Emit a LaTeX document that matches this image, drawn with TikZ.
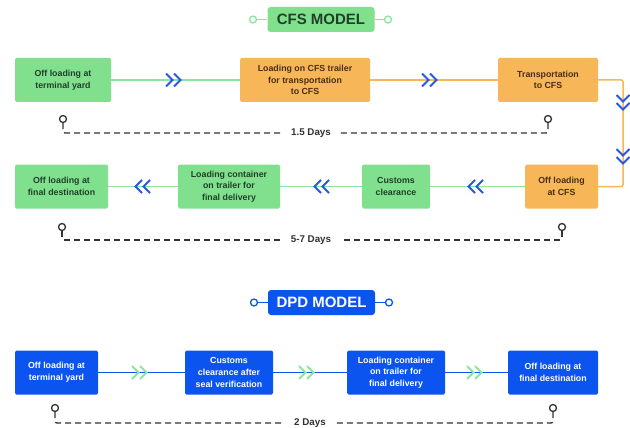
\documentclass[tikz,border=0pt]{standalone}
\usepackage{fontspec}
\setmainfont{Liberation Sans}
\usetikzlibrary{positioning}

\definecolor{cfsgreen}{RGB}{128,224,142}
\definecolor{linegreen}{RGB}{140,228,158}
\definecolor{cfsorange}{RGB}{247,182,88}
\definecolor{dpdblue}{RGB}{12,84,240}
\definecolor{chevblue}{RGB}{40,88,225}
\definecolor{greentxt}{RGB}{32,64,40}
\definecolor{orangetxt}{RGB}{70,48,20}
\definecolor{daygray}{RGB}{50,50,50}

\tikzset{
  chev/.pic={\draw[line width=1.9pt] (-8,-6.5) -- (-1.5,0) -- (-8,6.5) (0,-6.5) -- (6.5,0) -- (0,6.5);}
}

\begin{document}
\begin{tikzpicture}[x=1pt,y=-1pt,
  every node/.style={font=\bfseries\fontsize{8.8}{11.6}\selectfont,align=center},
  box/.style={rectangle,rounded corners=1.5pt,minimum height=44pt,inner sep=2pt},
  gbox/.style={box,fill=cfsgreen,text=greentxt},
  obox/.style={box,fill=cfsorange,text=orangetxt},
  bbox/.style={box,fill=dpdblue,text=white},
  titlebox/.style={rectangle,rounded corners=3pt,minimum width=107pt,minimum height=25pt,
    font=\bfseries\fontsize{15}{15}\selectfont},
  tdot/.style={circle,draw,fill=white,line width=1.3pt,minimum size=7pt,inner sep=0pt},
  dot/.style={circle,draw=daygray,line width=1.3pt,minimum size=7pt,inner sep=0pt},
  daytxt/.style={text=daygray,inner xsep=9pt,font=\bfseries\fontsize{9.8}{12}\selectfont},
  dayline/.style={draw=daygray,line width=1.4pt,dash pattern=on 6pt off 4pt,rounded corners=2pt},
  gline/.style={draw=linegreen,line width=1.5pt},
  oline/.style={draw=cfsorange,line width=1.5pt,rounded corners=2pt},
  bline/.style={draw=dpdblue,line width=1.5pt}]

  \useasboundingbox (0,0) rectangle (630,428);

  % CFS title
  \node[titlebox,fill=cfsgreen,text=greentxt] (cfsT) at (321,19.5) {CFS MODEL};
  \node[tdot,draw=linegreen] (cfsTl) at (253,19.5) {};
  \node[tdot,draw=linegreen] (cfsTr) at (388,19.5) {};
  \draw[gline,line width=1.3pt] (cfsTl) -- (cfsT) -- (cfsTr);

  % CFS first row
  \node[gbox,minimum width=96pt] (cfsA) at (63,80) {Off loading at\\terminal yard};
  \node[obox,minimum width=130pt] (cfsB) at (305,80) {Loading on CFS trailer\\for transportation\\to CFS};
  \node[obox,minimum width=100pt] (cfsC) at (548,80) {Transportation\\to CFS};

  % CFS second row
  \node[obox,minimum width=73pt] (cfsD) at (561.5,186.5) {Off loading\\at CFS};
  \node[gbox,minimum width=68pt] (cfsE) at (396,186.5) {Customs\\clearance};
  \node[gbox,minimum width=102pt] (cfsF) at (229,186.5) {Loading container\\on trailer for\\final delivery};
  \node[gbox,minimum width=93pt] (cfsG) at (61.5,186.5) {Off loading at\\final destination};

  % CFS connectors
  \coordinate (bend) at (623,80);
  \draw[gline] (cfsA) -- (cfsB);
  \draw[oline] (cfsB) -- (cfsC);
  \draw[oline] (cfsC) -- (bend) |- (cfsD);
  \draw[gline] (cfsD) -- (cfsE);
  \draw[gline] (cfsE) -- (cfsF);
  \draw[gline] (cfsF) -- (cfsG);

  % chevrons
  \foreach \x/\y/\r in {174/80/0, 430/80/0, 623/103/-90, 623/157/-90,
                        475/186.5/180, 321/186.5/180, 142/186.5/180}
    \pic[draw=chevblue,rotate=\r] at (\x,\y) {chev};

  % CFS durations
  \node[dot] (d1a) at (63,119) {};
  \node[dot] (d1b) at (548,119) {};
  \node[daytxt] (d1t) at (311,133) {1.5 Days};
  \draw[dayline] (d1a) |- (d1t);
  \draw[dayline] (d1b) |- (d1t);

  \node[dot] (d2a) at (62,227) {};
  \node[dot] (d2b) at (562,227) {};
  \node[daytxt] (d2t) at (311,240) {5-7 Days};
  \draw[dayline] (d2a) |- (d2t);
  \draw[dayline] (d2b) |- (d2t);

  % DPD title
  \node[titlebox,fill=dpdblue,text=white] (dpdT) at (321.5,302.5) {DPD MODEL};
  \node[tdot,draw=dpdblue] (dpdTl) at (254,302.5) {};
  \node[tdot,draw=dpdblue] (dpdTr) at (389,302.5) {};
  \draw[bline,line width=1.3pt] (dpdTl) -- (dpdT) -- (dpdTr);

  % DPD row
  \node[bbox,minimum width=83pt] (dpdA) at (56.5,372.5) {Off loading at\\terminal yard};
  \node[bbox,minimum width=88pt] (dpdB) at (229,372.5) {Customs\\clearance after\\seal verification};
  \node[bbox,minimum width=98pt] (dpdC) at (396,372.5) {Loading container\\on trailer for\\final delivery};
  \node[bbox,minimum width=90pt] (dpdD) at (553,372.5) {Off loading at\\final destination};

  \draw[bline] (dpdA) -- (dpdB);
  \draw[bline] (dpdB) -- (dpdC);
  \draw[bline] (dpdC) -- (dpdD);

  \foreach \x in {140, 307, 475}
    \pic[draw=linegreen] at (\x,372.5) {chev};

  % DPD duration
  \node[dot] (d3a) at (55,408) {};
  \node[dot] (d3b) at (553,408) {};
  \node[daytxt] (d3t) at (310,423) {2 Days};
  \draw[dayline] (d3a) |- (d3t);
  \draw[dayline] (d3b) |- (d3t);
\end{tikzpicture}
\end{document}
